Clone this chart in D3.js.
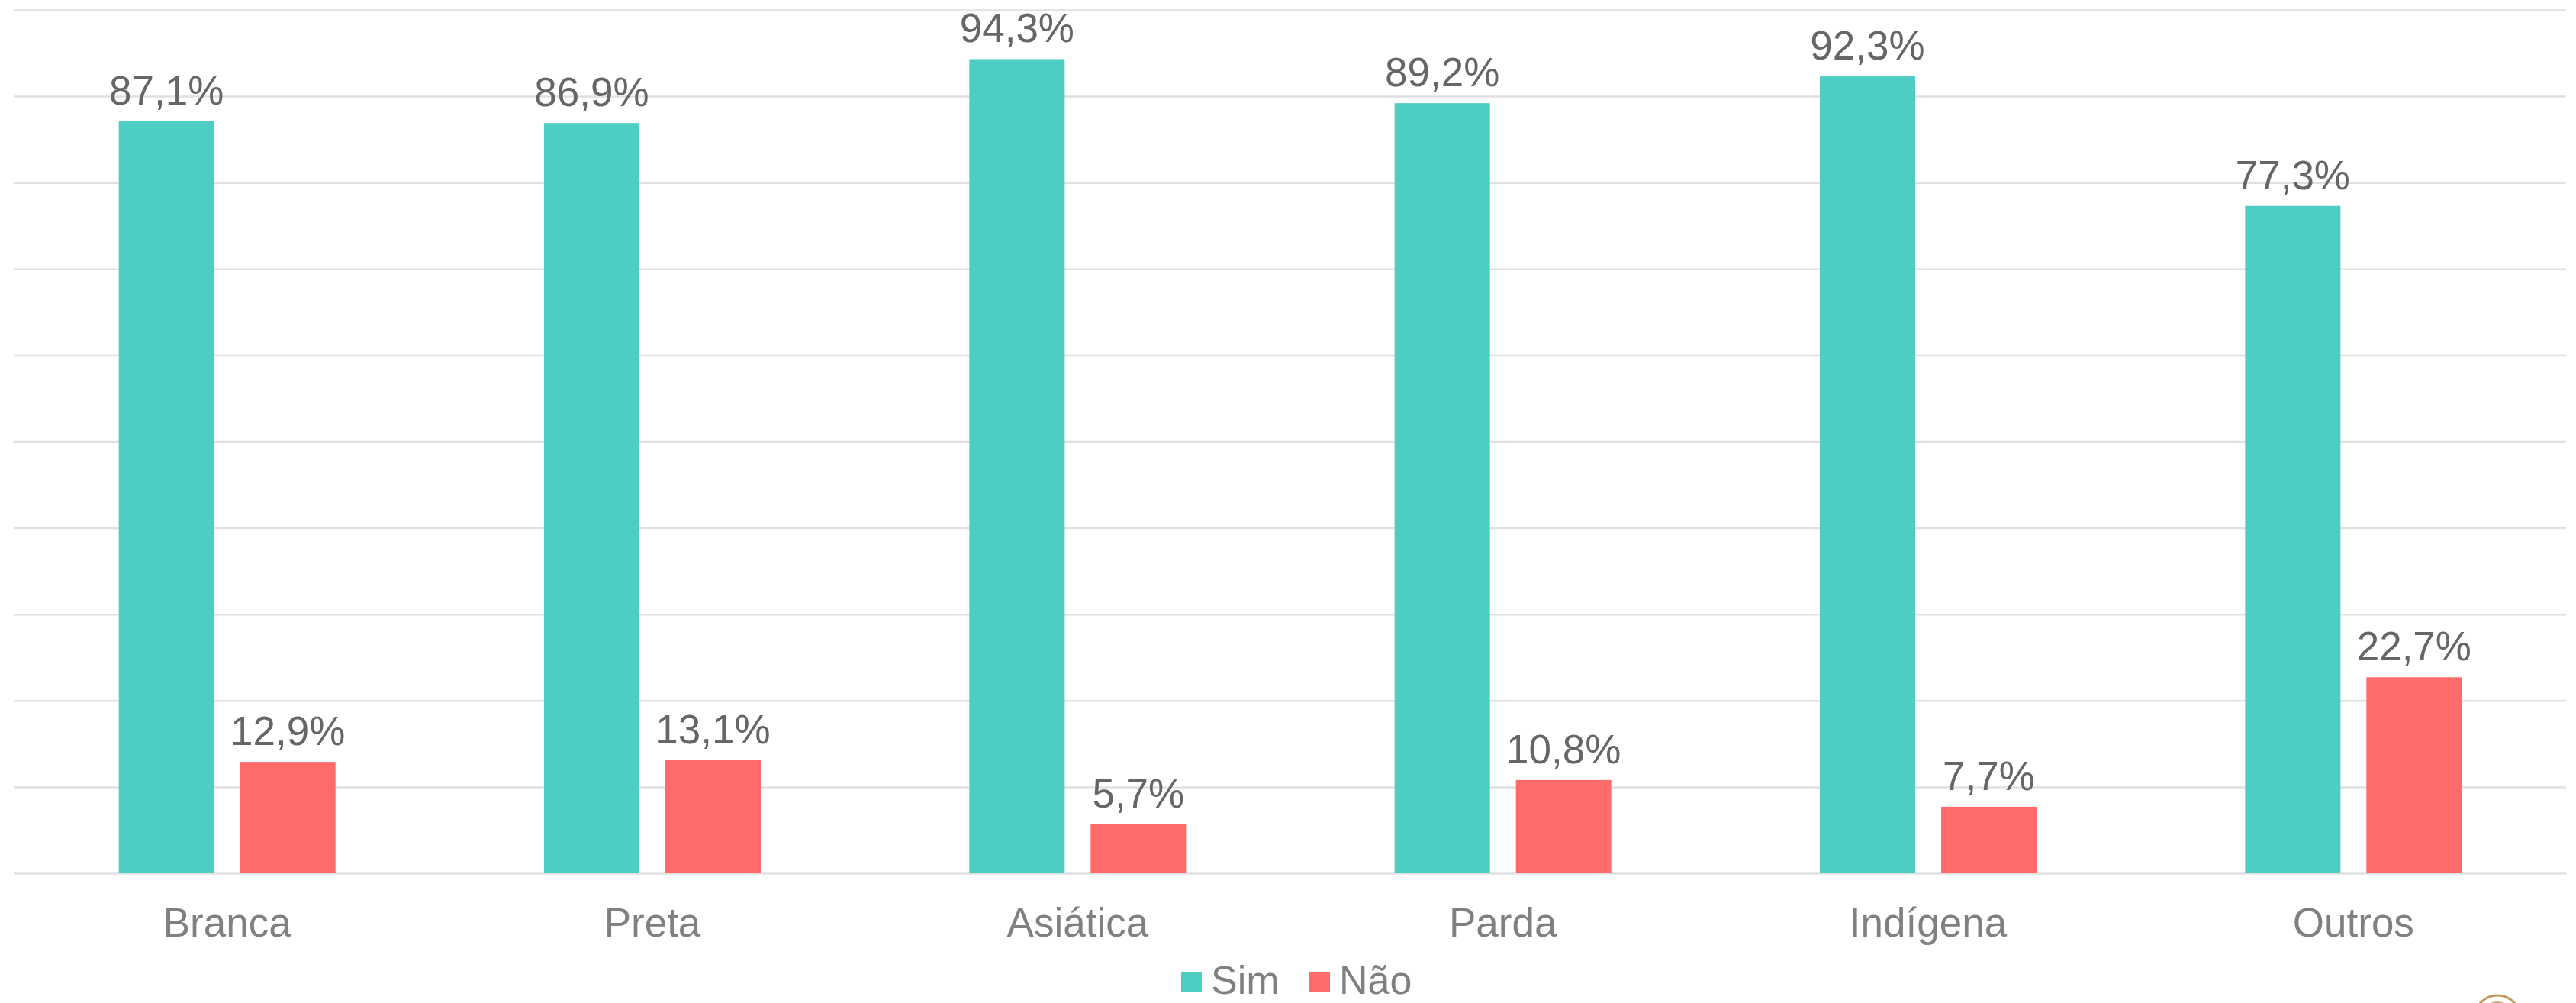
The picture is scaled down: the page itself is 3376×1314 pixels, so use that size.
<!DOCTYPE html>
<html>
<head>
<meta charset="utf-8">
<script src="https://cdn.jsdelivr.net/npm/d3@7"></script>
<style>
  html, body { margin: 0; padding: 0; background: #fff; }
  svg { display: block; font-family: "Liberation Sans", Arial, sans-serif; }
</style>
</head>
<body>
<svg id="chart" width="3376" height="1314"></svg>
<script>
const categories = ["Branca", "Preta", "Asiática", "Parda", "Indígena", "Outros"];
const seriesNames = ["Sim", "Não"];
const simValues = [87.1, 86.9, 94.3, 89.2, 92.3, 77.3];
const naoValues = [12.9, 13.1, 5.7, 10.8, 7.7, 22.7];
const seriesColors = ["#4ECDC4", "#FF6B6B"];
const yTicks = [0, 10, 20, 30, 40, 50, 60, 70, 80, 90, 100];

const W = 3376, H = 1314;
const margin = { left: 19, right: 13, top: 13, bottom: 170 };
const x0 = margin.left, x1 = W - margin.right;
const yTop = margin.top, yBase = H - margin.bottom;

const svg = d3.select("#chart");

const x = d3.scaleBand().domain(categories).range([x0, x1])
  .paddingInner(0.4904).paddingOuter(0.2452);
const xs = d3.scaleBand().domain(seriesNames).range([0, x.bandwidth()])
  .paddingInner(0.2138).paddingOuter(0);
const y = d3.scaleLinear().domain([0, 100]).range([yBase, yTop]);
const color = d3.scaleOrdinal().domain(seriesNames).range(seriesColors);

// gridlines
const grid = svg.append("g").attr("transform", `translate(${x0},0)`)
  .call(d3.axisLeft(y).tickValues(yTicks).tickSize(-(x1 - x0)).tickFormat(""));
grid.select(".domain").remove();
grid.selectAll(".tick line").attr("stroke", "#e0e0e0").attr("stroke-width", 2.5);

const data = categories.map((c, i) => ({
  cat: c,
  vals: [{ s: "Sim", v: simValues[i] }, { s: "Não", v: naoValues[i] }]
}));

const groups = svg.append("g").selectAll("g").data(data).join("g")
  .attr("transform", d => `translate(${x(d.cat)},0)`);

groups.selectAll("rect").data(d => d.vals).join("rect")
  .attr("x", d => xs(d.s))
  .attr("width", xs.bandwidth())
  .attr("y", d => y(d.v))
  .attr("height", d => yBase - y(d.v))
  .attr("fill", d => color(d.s));

const fmt = v => v.toFixed(1).replace(".", ",") + "%";
groups.selectAll("text").data(d => d.vals).join("text")
  .attr("x", d => xs(d.s) + xs.bandwidth() / 2)
  .attr("y", d => y(d.v) - 22)
  .attr("text-anchor", "middle")
  .attr("font-size", 53)
  .attr("fill", "#666666")
  .text(d => fmt(d.v));

// x axis labels
const xAxis = svg.append("g").attr("transform", `translate(0,${yBase})`)
  .call(d3.axisBottom(x).tickSize(0).tickPadding(0));
xAxis.select(".domain").remove();
xAxis.selectAll(".tick text")
  .attr("y", 83).attr("dy", 0)
  .attr("font-size", 53)
  .attr("font-family", "Liberation Sans, Arial, sans-serif")
  .attr("fill", "#808080");

// legend
const legendItems = [
  { s: "Sim", sx: 1548, tx: 1587 },
  { s: "Não", sx: 1716, tx: 1755 }
];
const lg = svg.append("g");
lg.selectAll("rect").data(legendItems).join("rect")
  .attr("x", d => d.sx).attr("y", 1273).attr("width", 27).attr("height", 27)
  .attr("fill", d => color(d.s));
lg.selectAll("text").data(legendItems).join("text")
  .attr("x", d => d.tx).attr("y", 1302)
  .attr("font-size", 52).attr("fill", "#808080")
  .text(d => d.s);

// partial logo at bottom right
const logo = svg.append("g").attr("transform", "translate(3273,1334)");
logo.append("circle").attr("r", 30).attr("fill", "none").attr("stroke", "#c49a5a").attr("stroke-width", 3);
logo.append("circle").attr("r", 22).attr("fill", "#c49a5a").attr("opacity", 0.85);
logo.append("circle").attr("r", 18).attr("cy", 4).attr("fill", "#fff");
</script>
</body>
</html>
